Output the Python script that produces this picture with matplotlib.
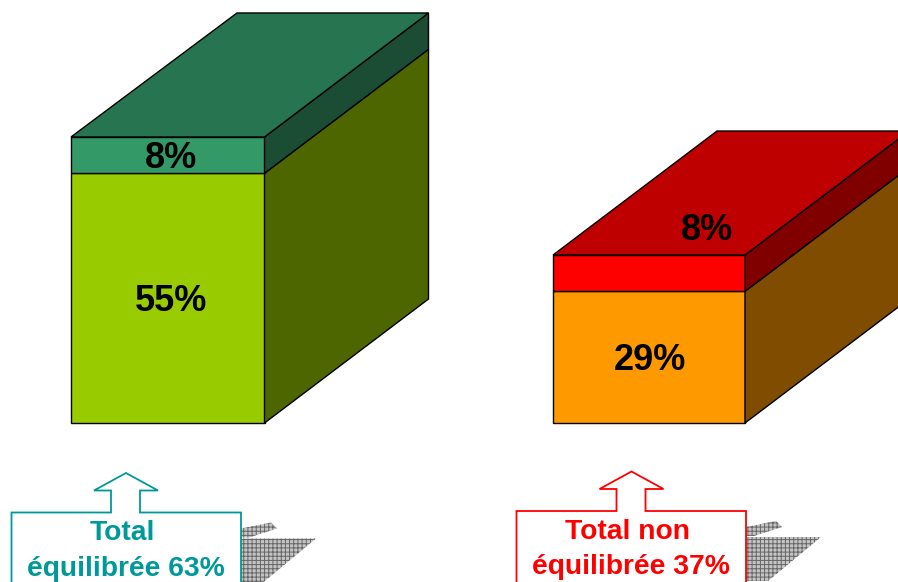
import matplotlib
matplotlib.use('Agg')
import matplotlib.pyplot as plt
from matplotlib.patches import Polygon

plt.rcParams['font.family'] = ['Liberation Sans', 'DejaVu Sans']
plt.rcParams['hatch.linewidth'] = 0.7

# values
lower_values = [55, 29]
upper_values = [8, 8]
total_first = ['Total', 'Total non']
total_second = ['équilibrée 63%', 'équilibrée 37%']

# faces: front, side, top
lower_colors = [('#99cc00', '#4d6600'), ('#ff9900', '#804d00')]
upper_colors = [('#339966', '#1a4d33', '#277550'), ('#ff0000', '#800000', '#bf0000')]
total_colors = ['#009999', '#ff0000']

# pixel layout
base_y = 423
px_per_pct = 4.54
lefts = [71, 553]
rights = [264.5, 745]
depth_x, depth_y = 164, -124
top_skew = [2, 0]
upper_label_y = [159, 231]
upper_label_x = [171, 707]
lower_label_x = [171, 650]
box_tops = [512.5, 511]
box_lefts = [11.5, 516.5]
box_rights = [241, 746]
arrow_x = [126, 631.5]

fig = plt.figure(figsize=(8.98, 5.82), dpi=100)
ax = fig.add_axes([0, 0, 1, 1])
ax.set_xlim(0, 898)
ax.set_ylim(582, 0)
ax.axis('off')


def face(pts, color, edge='black'):
    ax.add_patch(Polygon(pts, closed=True, facecolor=color, edgecolor=edge, linewidth=1, joinstyle='miter'))


for i in range(2):
    l, r = lefts[i], rights[i]
    y_mid = base_y - lower_values[i] * px_per_pct
    y_top = y_mid - upper_values[i] * px_per_pct

    # lower block
    face([(l, base_y), (r, base_y), (r, y_mid), (l, y_mid)], lower_colors[i][0])
    face([(r, base_y), (r + depth_x, base_y + depth_y), (r + depth_x, y_mid + depth_y), (r, y_mid)], lower_colors[i][1])
    # upper block
    face([(l, y_mid), (r, y_mid), (r, y_top), (l, y_top)], upper_colors[i][0])
    face([(r, y_mid), (r + depth_x, y_mid + depth_y), (r + depth_x, y_top + depth_y), (r, y_top)], upper_colors[i][1])
    face([(l, y_top), (r, y_top), (r + depth_x, y_top + depth_y), (l + depth_x + top_skew[i], y_top + depth_y)],
         upper_colors[i][2])

    ax.text(lower_label_x[i], (base_y + y_mid) / 2 + 3, '%d%%' % lower_values[i], ha='center', va='center',
            fontsize=26, fontweight='bold', color='black')
    ax.text(upper_label_x[i], upper_label_y[i], '%d%%' % upper_values[i], ha='center', va='center',
            fontsize=26, fontweight='bold', color='black')

    # hatched shadow behind the callout
    b = box_rights[i]
    t = box_tops[i]
    ax.add_patch(Polygon([(b, t + 16), (b + 30, t + 10), (b + 36, t + 16), (b + 8, t + 25), (b, t + 25)],
                         facecolor='#c4c4c4', edgecolor='#666666', linewidth=0, hatch='++++'))
    ax.add_patch(Polygon([(b, t + 26), (b + 75, t + 26), (b + 22, t + 70), (b, t + 70)],
                         facecolor='#c4c4c4', edgecolor='#666666', linewidth=0, hatch='++++'))

    # callout with arrow, its box runs off the bottom
    a = arrow_x[i]
    h = box_tops[i] - 22
    outline = [(box_lefts[i], 590), (box_lefts[i], t), (a - 15, t), (a - 15, h), (a - 32, h), (a, h - 17.5),
               (a + 32, h), (a + 14, h), (a + 14, t), (b, t), (b, 590)]
    ax.add_patch(Polygon(outline, closed=True, facecolor='white', edgecolor=total_colors[i], linewidth=1.3,
                         joinstyle='miter', zorder=3))
    mid = (box_lefts[i] + b) / 2
    ax.text(mid - 4, t + 21, total_first[i], ha='center', va='center', fontsize=20.3, fontweight='bold',
            color=total_colors[i], zorder=4)
    ax.text(mid, t + 56, total_second[i], ha='center', va='center', fontsize=20.3, fontweight='bold',
            color=total_colors[i], zorder=4)

plt.savefig('out.png', dpi=100)
